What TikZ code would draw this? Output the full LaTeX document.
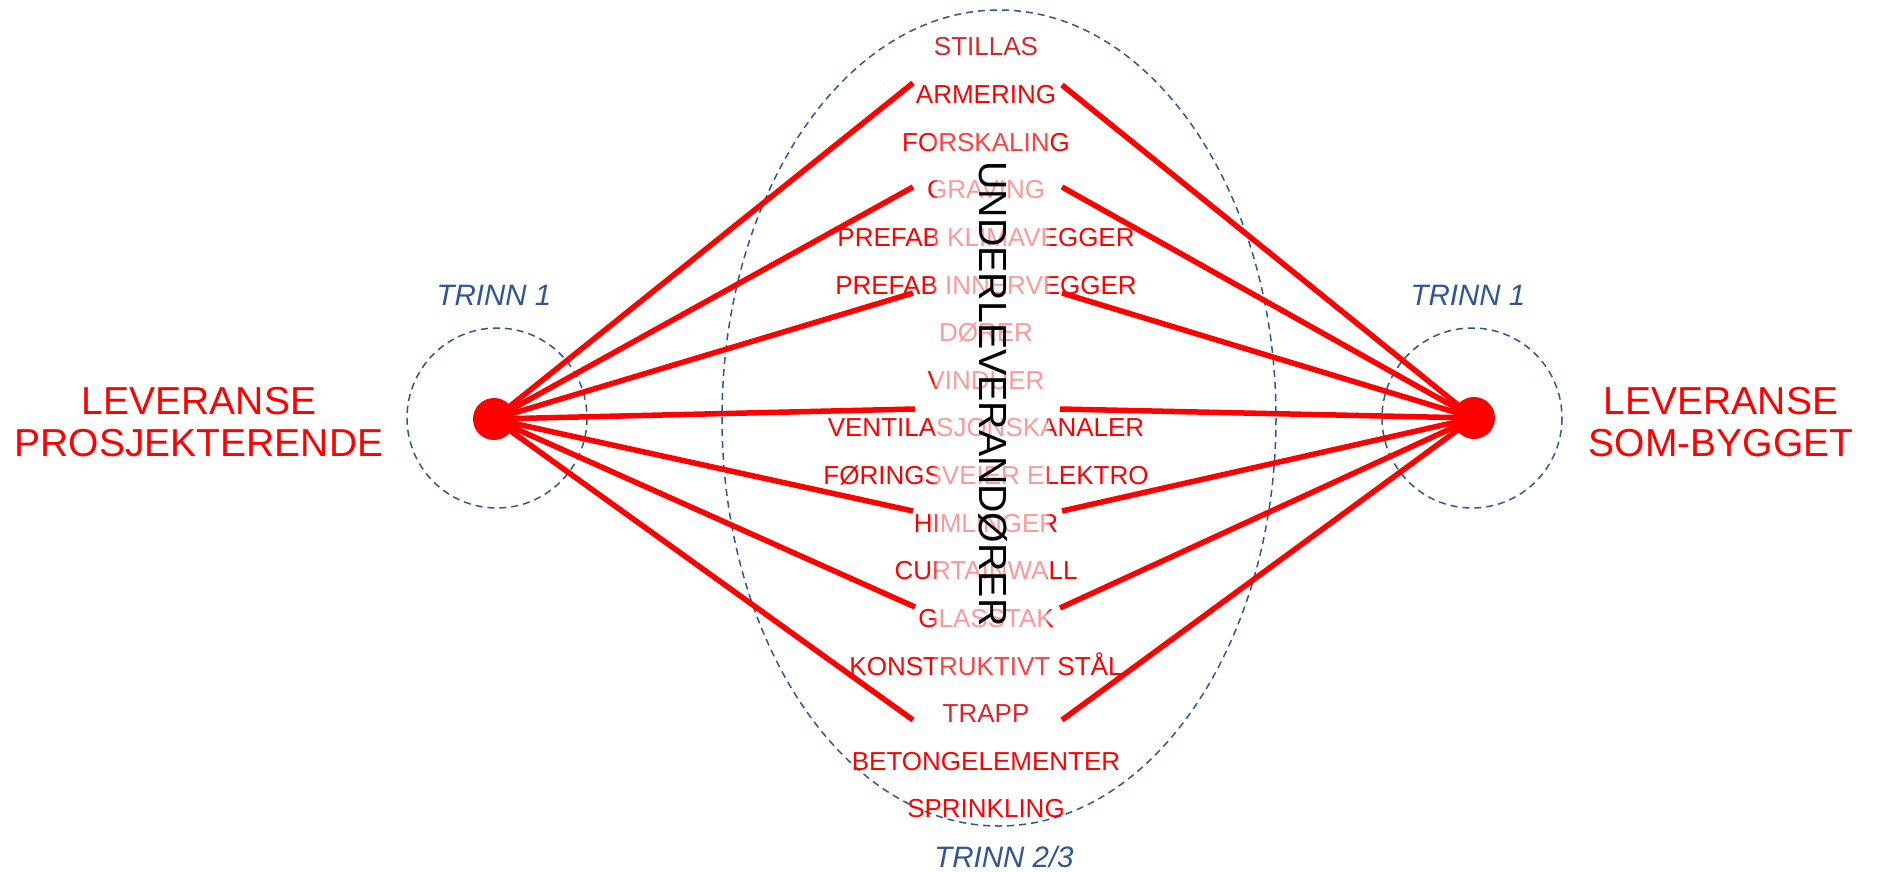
\documentclass[tikz,border=0pt]{standalone}
\usepackage{fontspec}
\setmainfont{Liberation Sans}
\definecolor{pred}{RGB}{255,0,0}
\definecolor{pblue}{RGB}{47,85,151}
\definecolor{pdark}{RGB}{214,38,44}
\begin{document}
\begin{tikzpicture}[x=1pt,y=-1pt,
  listtxt/.style={text=pred, font=\fontsize{26}{26}\selectfont, text height=18.6pt, text depth=0pt, inner sep=0pt},
  bigtxt/.style={text=pred, font=\fontsize{39}{42}\selectfont, align=center, inner sep=0pt},
  trinn/.style={text=pblue, font=\fontsize{29.5}{30}\selectfont\itshape, inner sep=0pt, text height=21.1pt, text depth=0pt},
  dashring/.style={draw=pblue, line width=1.5pt, dash pattern=on 7pt off 5pt},
  spoke/.style={draw=pred, line width=5.5pt},
  hub/.style={circle, fill=pred, minimum size=42pt, inner sep=0pt},
  glowbox/.style={fill=white, draw=none}]
\useasboundingbox (0,0) rectangle (1877,871);

% dashed outlines
\draw[dashring] (999,418) ellipse [x radius=277, y radius=408];
\draw[dashring] (497,418) circle [radius=90];
\draw[dashring] (1472,418) circle [radius=90];

% stage labels
\node[trinn] (t1l) at (494,295) {TRINN 1};
\node[trinn] (t1r) at (1468,295) {TRINN 1};
\node[trinn] (t23) at (1004,857) {TRINN 2/3};

% deliveries
\node[bigtxt] (levl) at (199,422) {LEVERANSE\\PROSJEKTERENDE};
\node[bigtxt] (levr) at (1721,422) {LEVERANSE\\SOM-BYGGET};

% list of subcontractor items
\node[listtxt, text=pdark] (i0) at (986,46) {STILLAS};
\node[listtxt] (i1) at (986,94) {ARMERING};
\node[listtxt] (i2) at (986,142) {FORSKALING};
\node[listtxt] (i3) at (986,189) {GRAVING};
\node[listtxt] (i4) at (986,237) {PREFAB KLIMAVEGGER};
\node[listtxt] (i5) at (986,285) {PREFAB INNERVEGGER};
\node[listtxt] (i6) at (986,332) {DØRER};
\node[listtxt] (i7) at (986,380) {VINDUER};
\node[listtxt] (i8) at (986,427) {VENTILASJONSKANALER};
\node[listtxt] (i9) at (986,475) {FØRINGSVEIER ELEKTRO};
\node[listtxt] (i10) at (986,523) {HIMLINGER};
\node[listtxt] (i11) at (986,570) {CURTAINWALL};
\node[listtxt] (i12) at (986,618) {GLASSTAK};
\node[listtxt] (i13) at (986,666) {KONSTRUKTIVT STÅL};
\node[listtxt, text=pdark] (i14) at (986,713) {TRAPP};
\node[listtxt] (i15) at (986,761) {BETONGELEMENTER};
\node[listtxt] (i16) at (986,808) {SPRINKLING};

% soft white glow around vertical label
\fill[glowbox, fill opacity=0.25] (934,120) rectangle (1050,700);
\fill[glowbox, fill opacity=0.47] (937,165) rectangle (1047,650);

\node[rotate=-90, font=\fontsize{39.3}{40}\selectfont, text height=28pt, text depth=0pt, inner sep=0pt] (under) at (993,394) {UNDERLEVERANDØRER};

% spoke end points
\coordinate (l1) at (913,83);
\coordinate (l2) at (913,187);
\coordinate (l3) at (913,293);
\coordinate (l4) at (915,409);
\coordinate (l5) at (913,511);
\coordinate (l6) at (915,607);
\coordinate (l7) at (913,720);
\coordinate (r1) at (1062,85);
\coordinate (r2) at (1062,187);
\coordinate (r3) at (1062,293);
\coordinate (r4) at (1060,409);
\coordinate (r5) at (1062,511);
\coordinate (r6) at (1060,608);
\coordinate (r7) at (1062,720);

\node[hub] (lhub) at (494,419) {};
\node[hub] (rhub) at (1474,418) {};

\foreach \k in {1,...,7} {
  \draw[spoke] (lhub.center) -- (l\k);
  \draw[spoke] (rhub.center) -- (r\k);
}
\end{tikzpicture}
\end{document}
